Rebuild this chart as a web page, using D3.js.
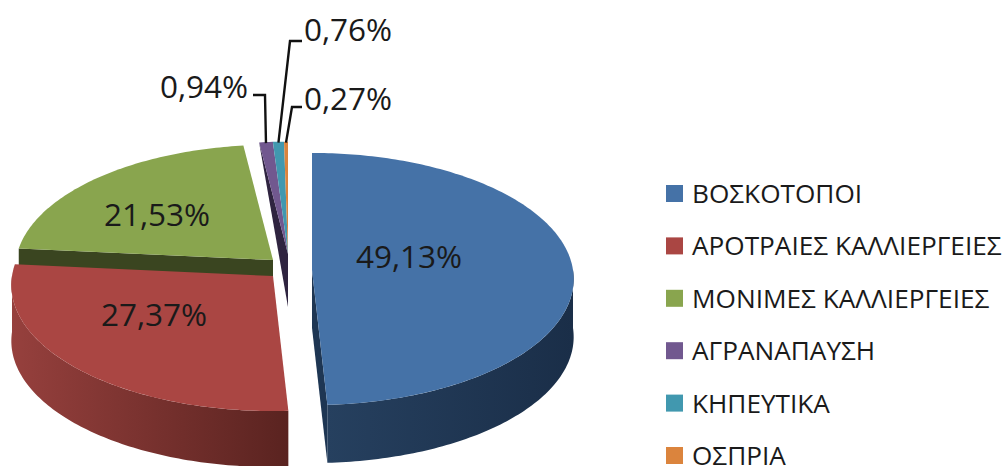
<!DOCTYPE html>
<html>
<head>
<meta charset="utf-8">
<title>Pie</title>
<style>
  html, body { margin: 0; padding: 0; background: #fff; overflow: hidden; }
  text { font-family: "Open Sans", "Noto Sans", sans-serif; fill: #1a1a1a; }
</style>
</head>
<body>
<script src="https://cdn.jsdelivr.net/npm/d3@7"></script>
<script>
var categories = ["ΒΟΣΚΟΤΟΠΟΙ", "ΑΡΟΤΡΑΙΕΣ ΚΑΛΛΙΕΡΓΕΙΕΣ", "ΜΟΝΙΜΕΣ ΚΑΛΛΙΕΡΓΕΙΕΣ", "ΑΓΡΑΝΑΠΑΥΣΗ", "ΚΗΠΕΥΤΙΚΑ", "ΟΣΠΡΙΑ"];
var values = [49.13, 27.37, 21.53, 0.94, 0.76, 0.27];
var labels = ["49,13%", "27,37%", "21,53%", "0,94%", "0,76%", "0,27%"];

var topColors = ["#4572a7", "#aa4643", "#89a54e", "#71588f", "#4198af", "#db843d"];
var faceColors = ["#1e3653", "#5a2320", "#3a4520", "#2f2440", "#1f4a57", "#6b4019"];
var wallFrom = ["#26405f", "#96403d", "#4d5f2a", "#2f2440", "#1f4a57", "#6b4019"];
var wallTo = ["#1a2e48", "#5a2320", "#3a4520", "#2f2440", "#1f4a57", "#6b4019"];

// where each slice has been pulled to, and how it shrinks toward the back
var apexX = [312, 273, 273, 288, 288, 288];
var apexY = [270, 276, 260, 254, 254, 254];
var shrink = [1, 1, 0.985, 0.96, 0.96, 0.96];
var depth = [58, 56, 56, 53, 53, 53];
var rx = 261, ry = 125.4, persp = 0.0714;

// label placement: text centre, and for small slices the elbow of the leader
var labelX = [409, 154, 157, 204, 348, 348];
var labelY = [255, 313, 213, 85, 28, 97];
var elbowX = [null, null, null, 265, 290, 292];
var elbowY = [null, null, null, 95, 41, 107];
var leaderEndX = [null, null, null, 253, 302, 302];

var width = 1006, height = 466;
var svg = d3.select("body").append("svg")
  .attr("width", width).attr("height", height)
  .style("display", "block");
var defs = svg.append("defs");

var pie = d3.pie().sort(null).value(function(d){ return d; });
var slices = pie(values);

// tilted disc with a bit of perspective
function project(i, a, drop) {
  var u = Math.sin(a), v = -Math.cos(a), w = 1 - persp * v;
  return [apexX[i] + shrink[i] * rx * u / w, apexY[i] + shrink[i] * ry * v / w + (drop || 0)];
}
function rim(i, a0, a1, drop) {
  var n = Math.max(2, Math.ceil((a1 - a0) * 60));
  return d3.range(n + 1).map(function(k){ return project(i, a0 + (a1 - a0) * k / n, drop); });
}
var line = d3.line();

function drawTop(i) {
  var s = slices[i];
  var pts = [[apexX[i], apexY[i]]].concat(rim(i, s.startAngle, s.endAngle));
  svg.append("path").attr("d", line(pts) + "Z").attr("fill", topColors[i]);
}
function drawWall(i) {
  // outer wall, only the part that faces the front
  var s = slices[i];
  var a0 = Math.max(s.startAngle, Math.PI / 2), a1 = Math.min(s.endAngle, Math.PI * 1.5);
  if (a1 <= a0) return;
  var id = "wall" + i;
  var xs = [project(i, a0)[0], project(i, a1)[0]];
  var g = defs.append("linearGradient").attr("id", id).attr("gradientUnits", "userSpaceOnUse")
    .attr("x1", d3.min(xs)).attr("x2", d3.max(xs)).attr("y1", 0).attr("y2", 0);
  g.append("stop").attr("offset", 0).attr("stop-color", wallFrom[i]);
  g.append("stop").attr("offset", 1).attr("stop-color", wallTo[i]);
  var pts = rim(i, a0, a1).concat(rim(i, a0, a1, depth[i]).reverse());
  svg.append("path").attr("d", line(pts) + "Z").attr("fill", "url(#" + id + ")");
}
function drawFace(i, a) {
  var apex = [apexX[i], apexY[i]], d = depth[i];
  var pts = [apex, project(i, a), project(i, a, d), [apex[0], apex[1] + d]];
  svg.append("path").attr("d", line(pts) + "Z").attr("fill", faceColors[i]);
}
function drawSliver(i, a) {
  // back slices show only a thin dark wedge under the top
  var apex = [apexX[i], apexY[i]], d = depth[i];
  var pts = [apex, project(i, a), [apex[0], apex[1] + d]];
  svg.append("path").attr("d", line(pts) + "Z").attr("fill", faceColors[i]);
}

// back to front
drawSliver(3, slices[3].startAngle);
drawTop(3); drawTop(4); drawTop(5);
drawFace(2, slices[2].startAngle);
drawTop(2);
drawFace(0, slices[0].endAngle);
drawWall(0);
drawTop(0);
drawWall(1);
drawTop(1);

// labels
svg.selectAll("text.val").data(labels).enter().append("text")
  .attr("class", "val")
  .attr("x", function(d, i){ return labelX[i]; })
  .attr("y", function(d, i){ return labelY[i]; })
  .attr("text-anchor", "middle").attr("dominant-baseline", "central")
  .style("font-size", "31.5px")
  .text(function(d){ return d; });

// leaders for the small slices
[3, 4, 5].forEach(function(i){
  var s = slices[i];
  var end = project(i, (s.startAngle + s.endAngle) / 2);
  svg.append("path")
    .attr("d", line([[leaderEndX[i], elbowY[i]], [elbowX[i], elbowY[i]], [end[0], end[1] + 1]]))
    .attr("fill", "none").attr("stroke", "#111").attr("stroke-width", 2.4);
});

// legend
var legendY = d3.scalePoint().domain(categories).range([194, 456]);
var legend = svg.selectAll("g.leg").data(categories).enter().append("g")
  .attr("class", "leg")
  .attr("transform", function(d){ return "translate(666," + legendY(d) + ")"; });
legend.append("rect").attr("x", 0).attr("y", -9).attr("width", 17).attr("height", 17)
  .attr("fill", function(d, i){ return topColors[i]; });
legend.append("text").attr("x", 26).attr("y", -1)
  .attr("dominant-baseline", "central")
  .style("font-size", "26.2px")
  .text(function(d){ return d; });
</script>
</body>
</html>
